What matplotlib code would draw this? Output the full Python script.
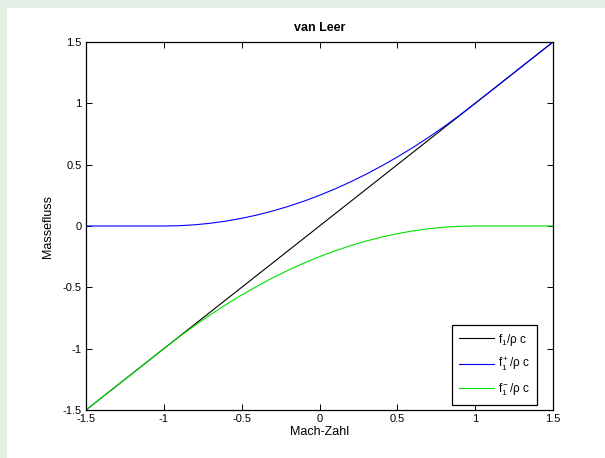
import matplotlib
matplotlib.use("Agg")
import matplotlib.pyplot as plt
from matplotlib.patches import Rectangle

plt.rcParams['font.family'] = ['Liberation Sans', 'DejaVu Sans']
plt.rcParams['mathtext.fontset'] = 'custom'
plt.rcParams['mathtext.rm'] = 'Liberation Sans'
plt.rcParams['mathtext.it'] = 'Liberation Sans'

mach = [-1.5, -1.4, -1.3, -1.2, -1.1, -1.0, -0.9, -0.8, -0.7, -0.6, -0.5,
        -0.4, -0.3, -0.2, -0.1, 0.0, 0.1, 0.2, 0.3, 0.4, 0.5,
        0.6, 0.7, 0.8, 0.9, 1.0, 1.1, 1.2, 1.3, 1.4, 1.5]
f1 = [-1.5, -1.4, -1.3, -1.2, -1.1, -1.0, -0.9, -0.8, -0.7, -0.6, -0.5,
      -0.4, -0.3, -0.2, -0.1, 0.0, 0.1, 0.2, 0.3, 0.4, 0.5,
      0.6, 0.7, 0.8, 0.9, 1.0, 1.1, 1.2, 1.3, 1.4, 1.5]
f1_plus = [0, 0, 0, 0, 0, 0, 0.0025, 0.01, 0.0225, 0.04, 0.0625,
           0.09, 0.1225, 0.16, 0.2025, 0.25, 0.3025, 0.36, 0.4225, 0.49, 0.5625,
           0.64, 0.7225, 0.81, 0.9025, 1.0, 1.1, 1.2, 1.3, 1.4, 1.5]
f1_minus = [-1.5, -1.4, -1.3, -1.2, -1.1, -1.0, -0.9025, -0.81, -0.7225, -0.64, -0.5625,
            -0.49, -0.4225, -0.36, -0.3025, -0.25, -0.2025, -0.16, -0.1225, -0.09, -0.0625,
            -0.04, -0.0225, -0.01, -0.0025, 0, 0, 0, 0, 0, 0]
ticks = [-1.5, -1, -0.5, 0, 0.5, 1, 1.5]
tick_labels = ['-1.5', '-1', '-0.5', '0', '0.5', '1', '1.5']

W, H = 605, 458
fig = plt.figure(figsize=(W / 100, H / 100), dpi=100, facecolor='#e3efe5')
fig.patches.append(Rectangle((7 / W, 0), 1 - 7 / W, 1 - 8 / H, transform=fig.transFigure,
                             facecolor='white', edgecolor='none', zorder=-10))
ax = fig.add_axes([86 / W, 1 - 410 / H, (553 - 86) / W, (410 - 42) / H])

ax.plot(mach, f1, color='black', lw=0.8, label=r'f$_1$/ρ c')
ax.plot(mach, f1_plus, color='#0000ff', lw=0.8, label=r'f$_1^+$/ρ c')
ax.plot(mach, f1_minus, color='#00e000', lw=0.8, label=r'f$_1^-$/ρ c')

ax.set_xlim(-1.5, 1.5)
ax.set_ylim(-1.5, 1.5)
ax.set_xticks(ticks)
ax.set_xticklabels(tick_labels)
ax.set_yticks(ticks)
ax.set_yticklabels(tick_labels)
ax.tick_params(direction='in', top=True, right=True, labelsize=8, length=4, width=0.7, pad=3)
for s in ax.spines.values():
    s.set_linewidth(0.9)

ax.set_title('van Leer', fontsize=9, fontweight='bold', pad=8)
ax.set_xlabel('Mach-Zahl', fontsize=9, labelpad=1)
ax.set_ylabel('Massefluss', fontsize=9, labelpad=6)

leg = ax.legend(loc='lower right', bbox_to_anchor=((537 - 86) / 467, 5 / 368),
                fontsize=8.5, fancybox=False, framealpha=1, edgecolor='black',
                handlelength=3.0, handletextpad=0.3, borderaxespad=0.0,
                borderpad=0.6, labelspacing=0.7)
leg.get_frame().set_linewidth(0.9)

fig.savefig('out.png', dpi=100, facecolor=fig.get_facecolor())
